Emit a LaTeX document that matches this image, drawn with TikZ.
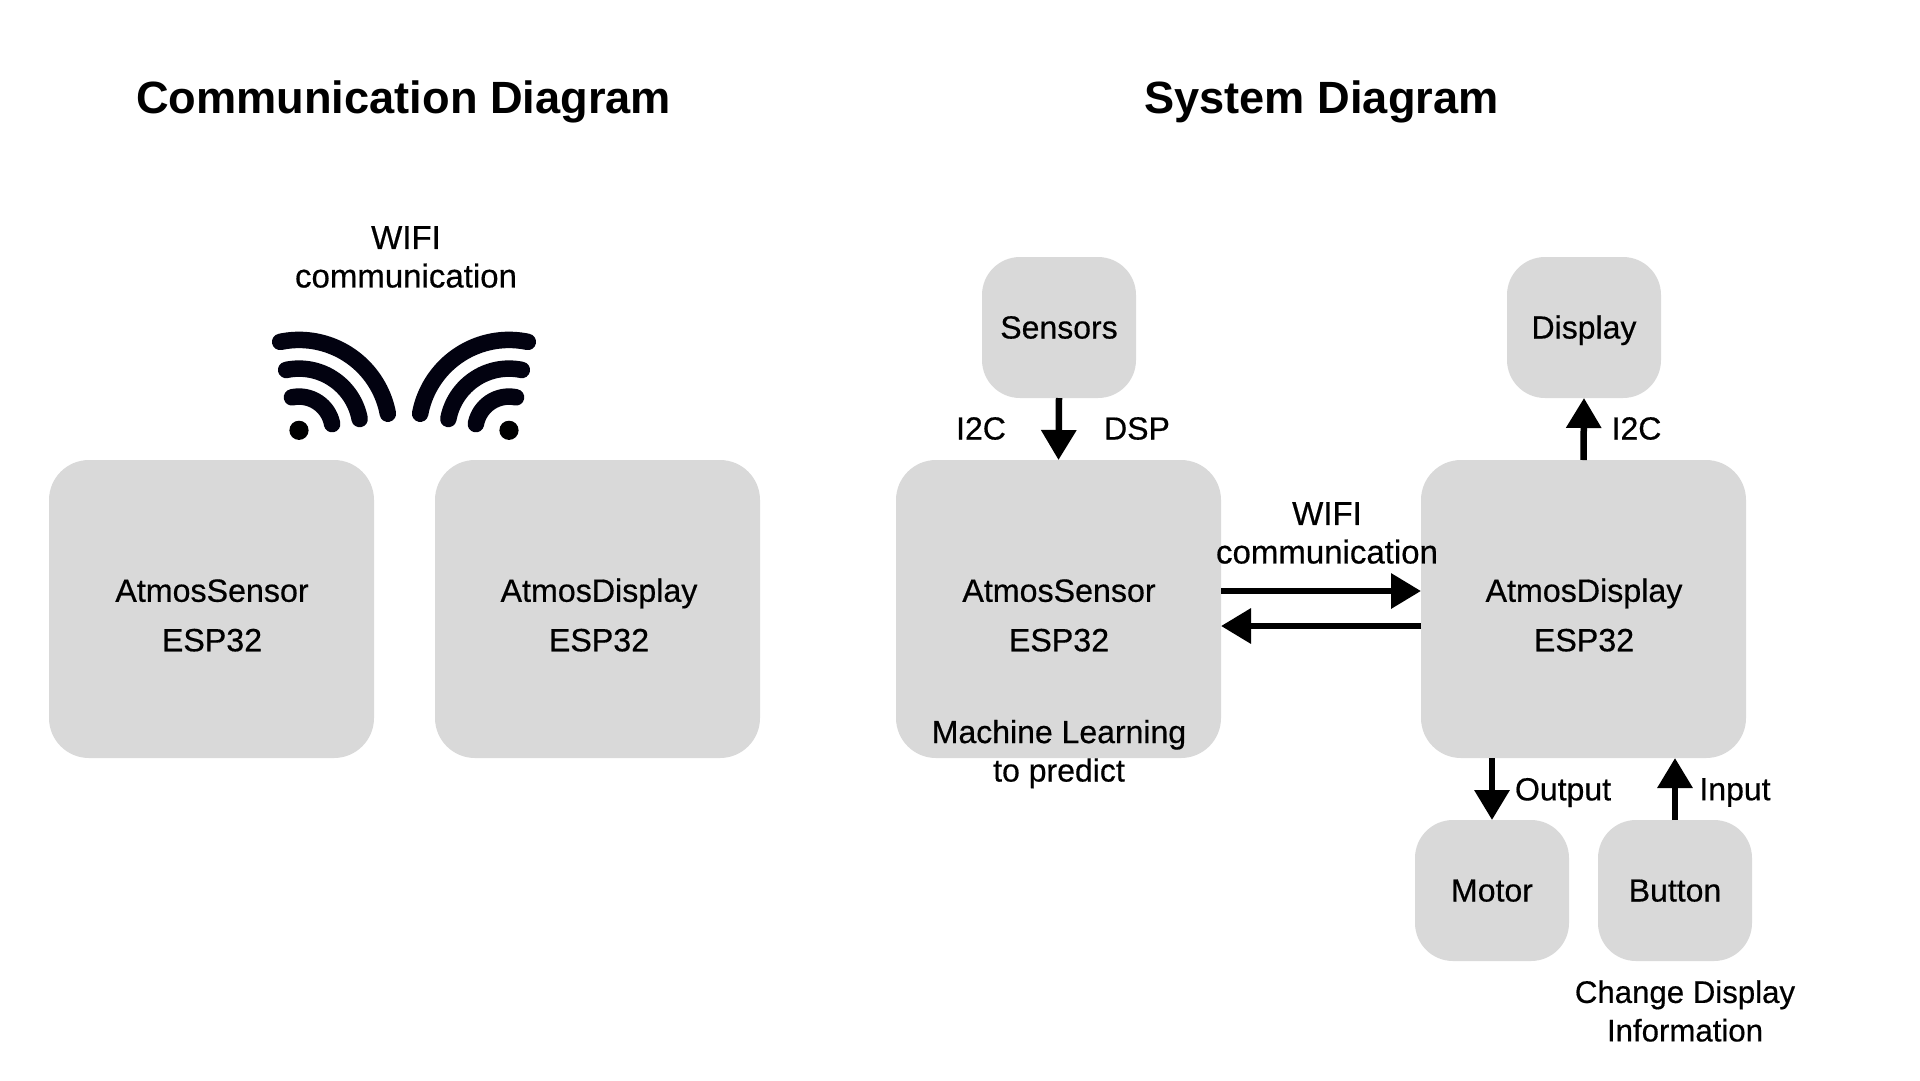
\documentclass[tikz,border=0pt]{standalone}
\usepackage{fontspec}
\setmainfont{Liberation Sans}
\newfontfamily\medfont[FakeBold=0.5]{Liberation Sans}
\usetikzlibrary{arrows.meta}
\definecolor{boxgrey}{HTML}{D9D9D9}
\definecolor{wifiink}{HTML}{020210}
\tikzset{
  x=1pt,y=-1pt,
  module/.style={fill=boxgrey,draw=none,rounded corners=40pt,inner sep=0pt,outer sep=0pt,minimum width=325pt,minimum height=298pt,anchor=north west},
  part/.style={fill=boxgrey,draw=none,rounded corners=38pt,inner sep=0pt,outer sep=0pt,minimum width=154pt,minimum height=141pt,anchor=north west},
  label/.style={inner sep=0pt,outer sep=0pt,align=center,font=\medfont\fontsize{32}{38.5}\selectfont},
  widelabel/.style={inner sep=0pt,outer sep=0pt,align=center,font=\medfont\fontsize{33}{38.5}\selectfont},
  tightlabel/.style={inner sep=0pt,outer sep=0pt,align=center,font=\medfont\fontsize{31.2}{38.5}\selectfont},
  partlabel/.style={inner sep=0pt,outer sep=0pt,text height=24pt,text depth=0pt,yshift=1pt,font=\medfont\fontsize{32}{38.5}\selectfont},
  modlabel/.style={inner sep=0pt,outer sep=0pt,align=center,font=\medfont\fontsize{32.2}{49.5}\selectfont},
  heading/.style={inner sep=0pt,outer sep=0pt,anchor=base,font=\bfseries\fontsize{45.2}{50}\selectfont},
  flow/.style={line width=6.5pt,-{Triangle[length=30pt,width=34pt]}},
  wave/.style={line width=16.5pt,line cap=round,color=wifiink},
}
\begin{document}
\begin{tikzpicture}
\useasboundingbox (0,0) rectangle (1920,1080);
% headings
\node[heading] (t1) at (403.6,113.5) {Communication Diagram};
\node[heading] (t2) at (1321.5,113.5) {System Diagram};
% left diagram
\node[widelabel] (wl) at (406,257) {WIFI\\communication};
\node[module] (s1) at (49,460) {};
\node[module] (d1) at (435,460) {};
\node[modlabel] (s1t) at (212,615) {AtmosSensor\vphantom{l}\\ESP32};
\node[modlabel] (d1t) at (599,615) {AtmosDisplay\\ESP32};
% wifi icons
\fill[black] (299,430.3) circle[radius=9.6];
\fill[black] (509,430.3) circle[radius=9.6];
\foreach \r in {90.4,61.7,33.7}{
  \draw[wave] plot[domain=10.6:102,samples=40] ({299+\r*cos(\x)},{430.3-\r*sin(\x)});
  \draw[wave] plot[domain=78:169.4,samples=40] ({509+\r*cos(\x)},{430.3-\r*sin(\x)});
}
% right diagram
\node[module] (s2) at (896,460) {};
\node[module] (d2) at (1421,460) {};
\node[part] (sens) at (982,257) {};
\node[part] (disp) at (1507,257) {};
\node[part] (motor) at (1415,820) {};
\node[part] (btn) at (1598,820) {};
\node[modlabel] (s2t) at (1059,615) {AtmosSensor\vphantom{l}\\ESP32};
\node[modlabel] (d2t) at (1584,615) {AtmosDisplay\\ESP32};
\node[partlabel] at (sens.center) (senst) {Sensors};
\node[partlabel] at (disp.center) (dispt) {Display};
\node[partlabel] at (motor.center) (motort) {Motor};
\node[partlabel] at (btn.center) (btnt) {Button};
\node[label] (i1) at (981,428.5) {I2C};
\node[label] (dsp) at (1137,428.5) {DSP};
\node[label] (i2) at (1636.5,428.5) {I2C};
\node[widelabel] (wr) at (1327,533) {WIFI\\communication};
\node[label] (ml) at (1059,754) {Machine Learning\\to predict};
\node[label] (out) at (1563,792.5) {Output};
\node[label] (inp) at (1735,792.5) {Input};
\node[tightlabel] (chg) at (1685,1011) {Change Display\\Information};
% connectors
\draw[flow] (sens.south) -- (s2.north);
\draw[flow] (d2.north) -- (disp.south);
\draw[flow] ([yshift=18pt]s2.east) -- ([yshift=18pt]d2.west);
\draw[flow] ([yshift=-17pt]d2.west) -- ([yshift=-17pt]s2.east);
\draw[flow] (motor.north |- d2.south) -- (motor.north);
\draw[flow] (btn.north) -- (btn.north |- d2.south);
\end{tikzpicture}
\end{document}
